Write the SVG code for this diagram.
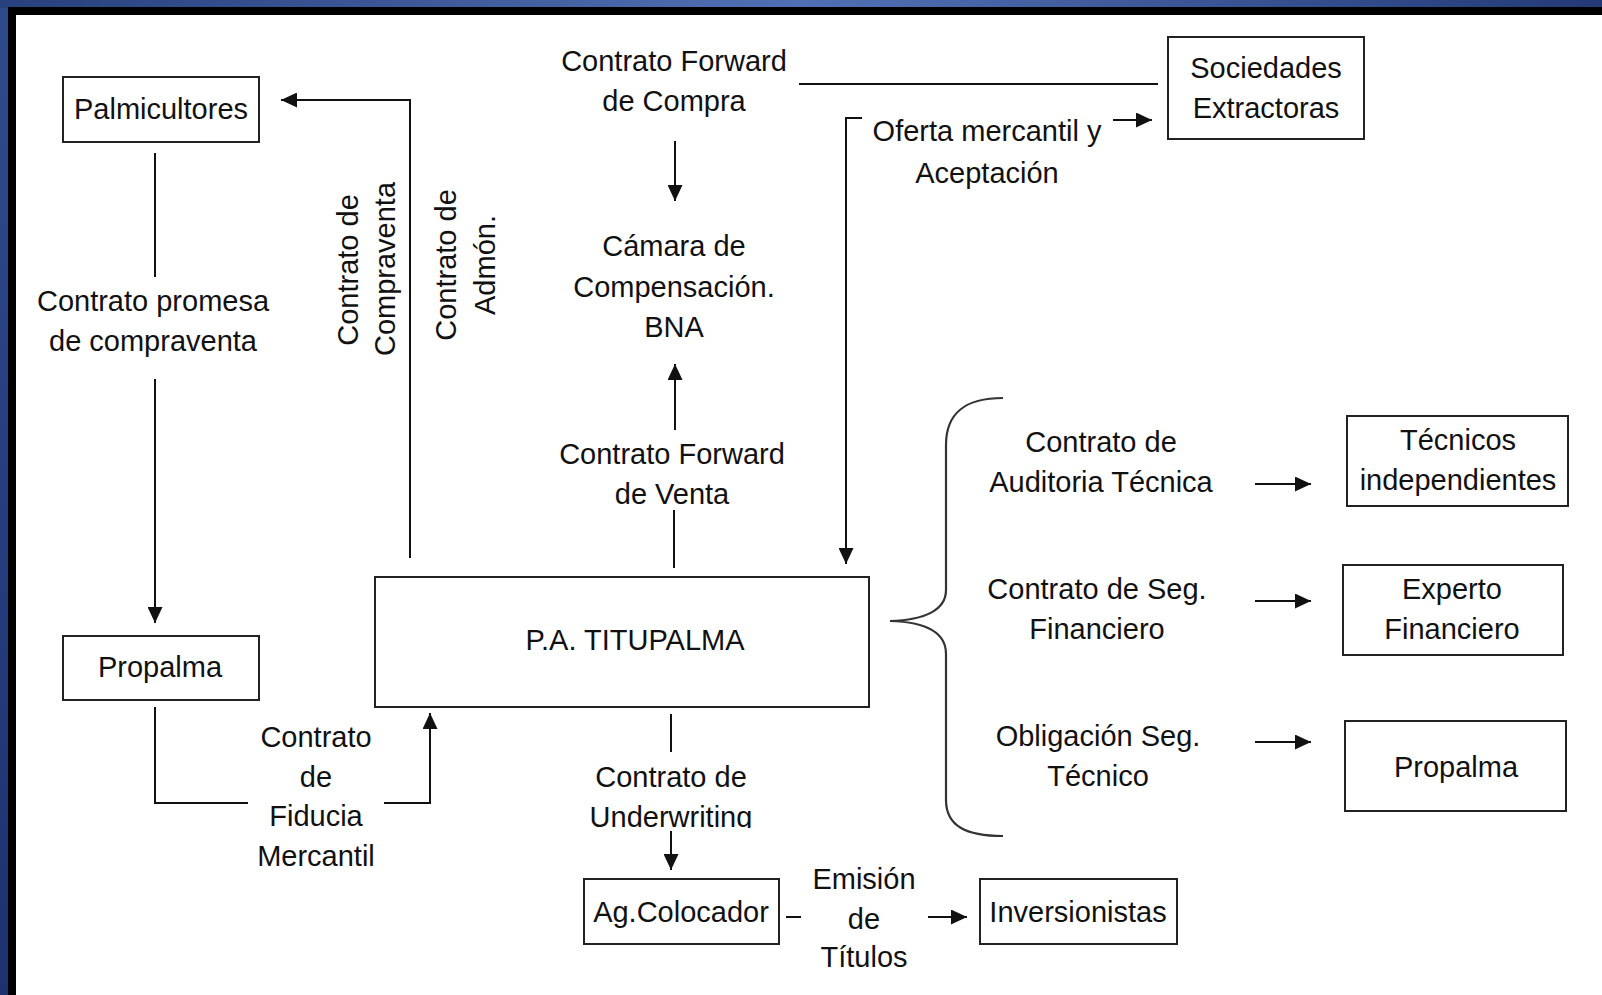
<svg xmlns="http://www.w3.org/2000/svg" width="1602" height="995" viewBox="0 0 1602 995">
<defs>
<linearGradient id="topband" x1="0" y1="0" x2="1" y2="0">
<stop offset="0" stop-color="#28407d"/>
<stop offset="0.5" stop-color="#5170b4"/>
<stop offset="1" stop-color="#243a77"/>
</linearGradient>
<linearGradient id="leftband" x1="0" y1="0" x2="0" y2="1">
<stop offset="0" stop-color="#2f4a8a"/>
<stop offset="1" stop-color="#1d3170"/>
</linearGradient>
<marker id="ah" markerUnits="userSpaceOnUse" markerWidth="17" markerHeight="15" refX="16" refY="7.5" orient="auto">
<path d="M0,0 L16,7.5 L0,15 z" fill="#111"/>
</marker>
<clipPath id="clipUW"><rect x="500" y="700" width="340" height="128"/></clipPath>
<style>
.box{fill:#fff;stroke:#222;stroke-width:2}
.ln{fill:none;stroke:#111;stroke-width:2}
.ar{fill:none;stroke:#111;stroke-width:2;marker-end:url(#ah)}
.br{fill:none;stroke:#333;stroke-width:2.2}
text{font-family:"Liberation Sans",Arial,sans-serif;font-size:29px;fill:#111;text-anchor:middle}
</style>
</defs>
<g id="frame">
<rect x="0" y="0" width="1602" height="995" fill="url(#leftband)"/>
<rect x="0" y="0" width="1602" height="8" fill="url(#topband)"/>
<rect x="8" y="7" width="1594" height="988" fill="#000"/>
<rect x="16" y="15" width="1586" height="980" fill="#fff"/>
</g>
<g id="connectors">
<line class="ln" x1="155" y1="153" x2="155" y2="277"/>
<line class="ar" x1="155" y1="379" x2="155" y2="623"/>
<polyline class="ar" points="410,558 410,100 281,100"/>
<polyline class="ln" points="155,707 155,803 248,803"/>
<polyline class="ar" points="384,803 430,803 430,713"/>
<line class="ln" x1="799" y1="84" x2="1158" y2="84"/>
<line class="ar" x1="675" y1="141" x2="675" y2="201"/>
<line class="ar" x1="675" y1="430" x2="675" y2="364"/>
<line class="ln" x1="674" y1="510" x2="674" y2="568"/>
<polyline class="ar" points="862,118 846,118 846,564"/>
<line class="ar" x1="1113" y1="120" x2="1152" y2="120"/>
<line class="ln" x1="671" y1="714" x2="671" y2="752"/>
<line class="ar" x1="671" y1="831" x2="671" y2="870"/>
<line class="ln" x1="786" y1="917" x2="801" y2="917"/>
<line class="ar" x1="928" y1="917" x2="967" y2="917"/>
<line class="ar" x1="1255" y1="484" x2="1311" y2="484"/>
<line class="ar" x1="1255" y1="601" x2="1311" y2="601"/>
<line class="ar" x1="1255" y1="742" x2="1311" y2="742"/>
<path class="br" d="M1003,398 C966,398 946,412 946,445 L946,590 C946,610 925,620 890,621 C925,622 946,632 946,654 L946,800 C946,826 966,836 1003,836"/>
</g>
<g id="labels">
<text x="153" y="311">Contrato promesa</text>
<text x="153" y="351">de compraventa</text>
<text transform="translate(358,270) rotate(-90)">Contrato de</text>
<text transform="translate(395,269) rotate(-90)">Compraventa</text>
<text transform="translate(456,265) rotate(-90)">Contrato de</text>
<text transform="translate(495,265) rotate(-90)">Admón.</text>
<text x="316" y="747">Contrato</text>
<text x="316" y="787">de</text>
<text x="316" y="826">Fiducia</text>
<text x="316" y="866">Mercantil</text>
<text x="674" y="71">Contrato Forward</text>
<text x="674" y="111">de Compra</text>
<text x="672" y="464">Contrato Forward</text>
<text x="672" y="504">de Venta</text>
<text x="987" y="141">Oferta mercantil y</text>
<text x="987" y="183">Aceptación</text>
<text x="1101" y="452">Contrato de</text>
<text x="1101" y="492">Auditoria Técnica</text>
<text x="1097" y="599">Contrato de Seg.</text>
<text x="1097" y="639">Financiero</text>
<text x="1098" y="746">Obligación Seg.</text>
<text x="1098" y="786">Técnico</text>
<g clip-path="url(#clipUW)">
<text x="671" y="787">Contrato de</text>
<text x="671" y="827">Underwriting</text>
</g>
<text x="864" y="889">Emisión</text>
<text x="864" y="929">de</text>
<text x="864" y="967">Títulos</text>
</g>
<g id="node-palmicultores">
<rect class="box" x="63" y="77" width="196" height="65"/>
<text x="161" y="119">Palmicultores</text>
</g>
<g id="node-camara">
<text x="674" y="256">Cámara de</text>
<text x="674" y="297">Compensación.</text>
<text x="674" y="337">BNA</text>
</g>
<g id="node-sociedades">
<rect class="box" x="1168" y="37" width="196" height="102"/>
<text x="1266" y="78">Sociedades</text>
<text x="1266" y="118">Extractoras</text>
</g>
<g id="node-propalma-left">
<rect class="box" x="63" y="636" width="196" height="64"/>
<text x="160" y="677">Propalma</text>
</g>
<g id="node-titupalma">
<rect class="box" x="375" y="577" width="494" height="130"/>
<text x="635" y="650">P.A. TITUPALMA</text>
</g>
<g id="node-agcolocador">
<rect class="box" x="584" y="879" width="195" height="65"/>
<text x="681" y="922">Ag.Colocador</text>
</g>
<g id="node-inversionistas">
<rect class="box" x="980" y="879" width="197" height="65"/>
<text x="1078" y="922">Inversionistas</text>
</g>
<g id="node-tecnicos">
<rect class="box" x="1347" y="416" width="221" height="90"/>
<text x="1458" y="450">Técnicos</text>
<text x="1458" y="490">independientes</text>
</g>
<g id="node-experto">
<rect class="box" x="1343" y="565" width="220" height="90"/>
<text x="1452" y="599">Experto</text>
<text x="1452" y="639">Financiero</text>
</g>
<g id="node-propalma-right">
<rect class="box" x="1345" y="721" width="221" height="90"/>
<text x="1456" y="777">Propalma</text>
</g>
</svg>
